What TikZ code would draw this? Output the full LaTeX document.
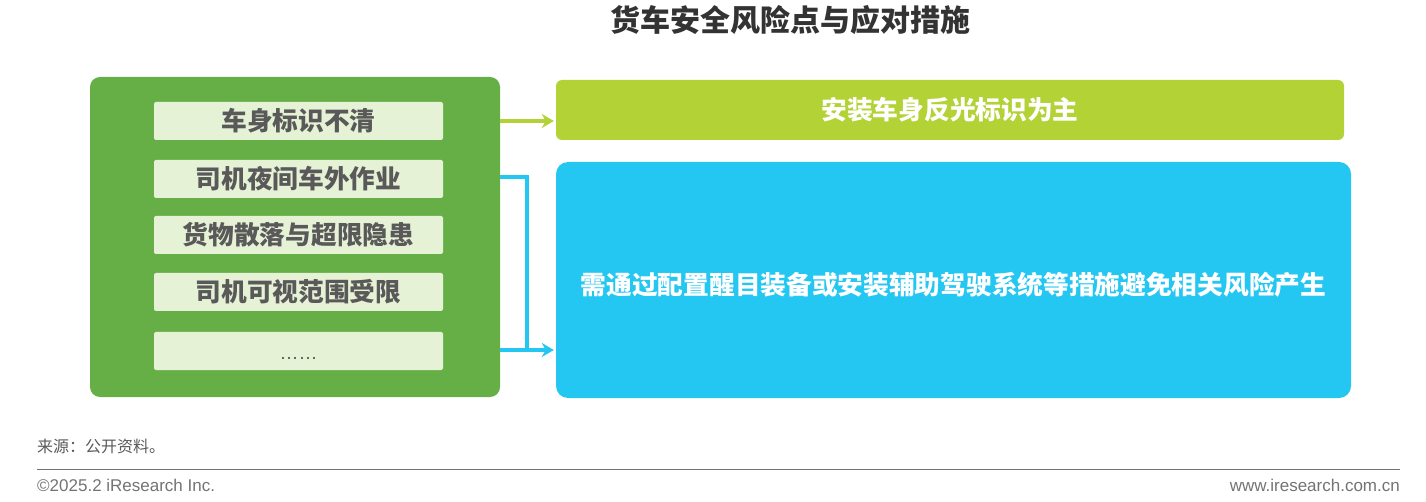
\documentclass[tikz,border=0pt]{standalone}
\usepackage{fontspec}
\setmainfont{Liberation Sans}
\newfontfamily\cjk{Noto Sans CJK SC}
\usetikzlibrary{arrows.meta}
\definecolor{gbox}{HTML}{66AF46}
\definecolor{gin}{HTML}{E6F2D6}
\definecolor{ybox}{HTML}{B2D235}
\definecolor{bbox}{HTML}{24C6F2}
\definecolor{dtext}{HTML}{595959}
\definecolor{ttl}{HTML}{333333}
\begin{document}
\begin{tikzpicture}[x=1pt,y=-1pt,
  risk/.style={fill=gin,draw=none,rounded corners=2pt,minimum width=289pt,minimum height=38pt,inner sep=0pt,
    text=dtext,font=\cjk\bfseries\fontsize{25.7}{28}\selectfont},
  solbox/.style={draw=none,inner sep=0pt,text=white,font=\cjk\bfseries\fontsize{25.7}{28}\selectfont},
  conn/.style={line width=4pt},
  tip/.style={-{Stealth[length=12pt,width=14pt]}}
]
\useasboundingbox (0,0) rectangle (1426,502);
% title
\node[font=\cjk\bfseries\fontsize{30}{33}\selectfont,text=ttl] (title) at (790,20) {货车安全风险点与应对措施};
% left container
\node[fill=gbox,rounded corners=10pt,minimum width=410pt,minimum height=320pt,inner sep=0pt] (left) at (295,237) {};
\node[risk] (r1) at (298.5,121) {车身标识不清};
\node[risk] (r2) at (298.5,179) {司机夜间车外作业};
\node[risk] (r3) at (298.5,235) {货物散落与超限隐患};
\node[risk] (r4) at (298.5,292) {司机可视范围受限};
\node[risk,font=\fontsize{19}{20}\selectfont] (r5) at (298.5,351) {\raisebox{-9pt}[0pt][0pt]{……}};
% right boxes
\node[solbox,fill=ybox,rounded corners=6pt,minimum width=788pt,minimum height=60pt] (s1) at (950,110) {安装车身反光标识为主};
\node[solbox,fill=bbox,rounded corners=12pt,minimum width=795pt,minimum height=236pt] (s2) at (953.5,280) {\raisebox{-15pt}[0pt][0pt]{需通过配置醒目装备或安装辅助驾驶系统等措施避免相关风险产生}};
% connectors
\coordinate (a1) at (left.east |- 0,121);
\coordinate (a1e) at (s1.west |- 0,121);
\draw[conn,ybox,tip] (a1) -- ([xshift=-2pt]a1e);
\coordinate (b1) at (left.east |- 0,177);
\coordinate (b2) at (left.east |- 0,350);
\coordinate (bj) at (527,177);
\coordinate (be) at (s2.west |- 0,350);
\draw[conn,bbox] (b1) -- (bj) -- (bj |- b2);
\draw[conn,bbox,tip] (b2) -- ([xshift=-2pt]be);
% footer
\node[anchor=west,font=\cjk\fontsize{16}{18}\selectfont,text=dtext,inner sep=0pt] (src) at (37,446) {来源：公开资料。};
\coordinate (l1) at (37,469);
\coordinate (l2) at (1400,469);
\draw[line width=1pt,color=black!55] (l1) -- (l2);
\node[anchor=west,font=\fontsize{17}{19}\selectfont,text=black!55,inner sep=0pt] (copy) at (37,485) {©2025.2 iResearch Inc.};
\node[anchor=east,font=\fontsize{17}{19}\selectfont,text=black!55,inner sep=0pt] (web) at (1400,485) {www.iresearch.com.cn};
\end{tikzpicture}
\end{document}
